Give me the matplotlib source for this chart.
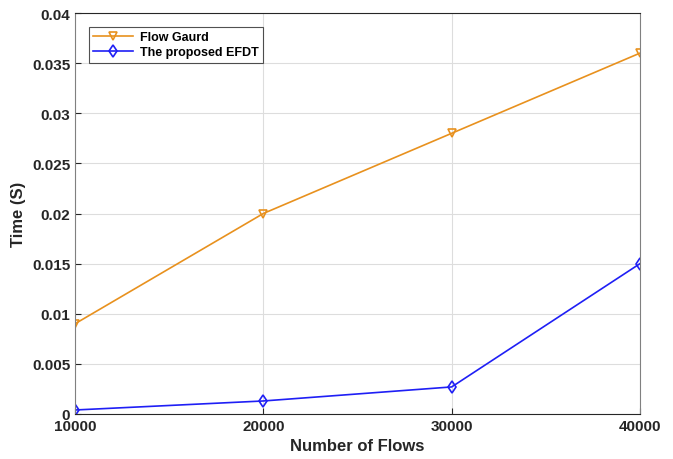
import matplotlib
matplotlib.use("Agg")
import matplotlib.pyplot as plt

flows = [10000, 20000, 30000, 40000]
flow_guard = [0.009, 0.020, 0.028, 0.036]
efdt = [0.0004, 0.0013, 0.0027, 0.015]

plt.rcParams['font.family'] = ['Liberation Sans', 'DejaVu Sans']
plt.rcParams['font.weight'] = 'bold'

fig = plt.figure(figsize=(6.73, 4.60), dpi=100)
ax = fig.add_axes([75/673, 1-415/460, (640-75)/673, (415-14)/460])

ax.plot(flows, flow_guard, color='#E8911E', marker='v', markersize=6, markerfacecolor='none',
        markeredgewidth=1.2, linewidth=1.2, label='Flow Gaurd')
ax.plot(flows, efdt, color='#1F1FF5', marker='d', markersize=6, markerfacecolor='none',
        markeredgewidth=1.2, linewidth=1.2, label='The proposed EFDT')

ax.set_xlim(10000, 40000)
ax.set_ylim(0, 0.04)
ax.set_xticks(flows)
ax.set_xticklabels([str(f) for f in flows])
yt = [0, 0.005, 0.01, 0.015, 0.02, 0.025, 0.03, 0.035, 0.04]
ax.set_yticks(yt)
ax.set_yticklabels(['0', '0.005', '0.01', '0.015', '0.02', '0.025', '0.03', '0.035', '0.04'])
ax.grid(True, color='#DDDDDD', linewidth=0.8)
ax.tick_params(direction='in', length=4, labelsize=11, colors='#262626', width=0.8)
for s in ax.spines.values():
    s.set_color('#262626')
    s.set_linewidth(0.8)
ax.spines['left'].set_color('#808080')
ax.spines['right'].set_color('#808080')
ax.set_xlabel('Number of Flows', fontsize=12, fontweight='bold', color='#262626')
ax.set_ylabel('Time (S)', fontsize=12, fontweight='bold', color='#262626')
leg = ax.legend(loc='upper left', bbox_to_anchor=(0.018, 0.975), fontsize=9, frameon=True,
                fancybox=False, edgecolor='#262626', borderpad=0.35, handlelength=3.2,
                handletextpad=0.5, labelspacing=0.25, borderaxespad=0.3)
leg.get_frame().set_linewidth(0.8)
for t in leg.get_texts():
    t.set_fontweight('bold')

fig.savefig('out.png', dpi=100)
